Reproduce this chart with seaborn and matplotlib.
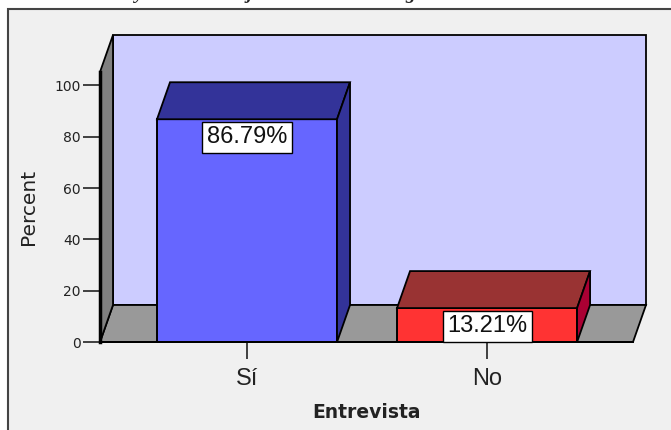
import matplotlib
matplotlib.use("Agg")
import matplotlib.pyplot as plt
from matplotlib.patches import Polygon, Rectangle
import pandas as pd
import seaborn as sns

# Values
categories = ["Sí", "No"]
percents = [86.79, 13.21]
percent_labels = ["86.79%", "13.21%"]
y_ticks = [0, 20, 40, 60, 80, 100]
front_colors = ["#6666ff", "#ff3333"]
top_colors = ["#333399", "#993333"]
side_colors = ["#333399", "#aa0033"]

W, H = 671, 430
sns.set_theme(style="white")
plt.rcParams["font.family"] = ["DejaVu Sans"]

fig = plt.figure(figsize=(W / 100, H / 100), dpi=100, facecolor="white")

# Grey panel behind the chart, open on the right and bottom like the screenshot
panel = Rectangle((8 / W, -0.1), 1.1, 1.1 - 9 / H, transform=fig.transFigure,
                  facecolor="#f0f0f0", edgecolor="#444444", linewidth=1.5, zorder=-1)
fig.add_artist(panel)

# Only the tails of the clipped title line show at the top edge
for px, letter in [(139, "y"), (249, "j"), (410, "g")]:
    fig.text(px / W, 1 + 1 / H, letter, family="Liberation Serif", fontsize=14,
             fontweight="bold", fontstyle="italic", ha="center", va="baseline")

# Axes box is the front plane: x 100-633 px, y 342-72 px
ax = fig.add_axes([100 / W, 1 - 342 / H, 533 / W, 270 / H])
ax.patch.set_visible(False)

df = pd.DataFrame({"Entrevista": categories, "Percent": percents})
sns.barplot(data=df, x="Entrevista", y="Percent", hue="Entrevista", palette=front_colors,
            legend=False, width=0.75, saturation=1, edgecolor="black", linewidth=1.4, ax=ax, zorder=5)

ax.set_xlim(-0.6125, 1.608)
ax.set_ylim(0, 105.2)

# depth of the fake 3D box, in data units
dx = 13 / 240
dy = 37 / 2.566
x0, x1 = ax.get_xlim()
y1 = ax.get_ylim()[1]


def face(points, color, z):
    ax.add_patch(Polygon(points, closed=True, facecolor=color, edgecolor="black",
                         linewidth=1.3, clip_on=False, zorder=z))


bars = list(ax.patches)

face([(x0 + dx, dy), (x1 + dx, dy), (x1 + dx, y1 + dy), (x0 + dx, y1 + dy)], "#ccccff", 1)
face([(x0, 0), (x1, 0), (x1 + dx, dy), (x0 + dx, dy)], "#999999", 2)
face([(x0, 0), (x0 + dx, dy), (x0 + dx, y1 + dy), (x0, y1)], "#808080", 2)

# Top and side of each bar, then the value box
for bar, top, side, label in zip(bars, top_colors, side_colors, percent_labels):
    left = bar.get_x()
    right = left + bar.get_width()
    h = bar.get_height()
    face([(left, h), (right, h), (right + dx, h + dy), (left + dx, h + dy)], top, 6)
    face([(right, 0), (right + dx, dy), (right + dx, h + dy), (right, h)], side, 6)
    ax.annotate(label, xy=((left + right) / 2, h), xytext=(0, -13), textcoords="offset points",
                ha="center", va="center", fontsize=17, family="Liberation Sans", color="#111111",
                bbox=dict(boxstyle="square,pad=0.19", facecolor="white", edgecolor="black", linewidth=1),
                zorder=8)

sns.despine(ax=ax, top=True, right=True)
ax.spines["left"].set_linewidth(2.5)
ax.spines["left"].set_color("black")
ax.spines["left"].set_zorder(7)
ax.spines["bottom"].set_linewidth(1.4)
ax.spines["bottom"].set_color("black")
ax.spines["bottom"].set_zorder(7)

ax.set_yticks(y_ticks)
ax.tick_params(axis="y", left=True, length=12, width=1.2, color="#222222", labelsize=10, pad=2, labelcolor="#222222")
ax.tick_params(axis="x", bottom=True, length=12, width=1.2, color="#222222", pad=7, labelcolor="#222222")
ax.set_xticks(range(len(categories)), labels=categories, fontsize=17, fontfamily="Liberation Sans")
ax.set_ylabel("Percent", fontsize=14.5, fontweight="medium", color="#222222", labelpad=12)
ax.set_xlabel("Entrevista", fontsize=13.5, fontweight="bold", color="#222222", labelpad=9)

fig.savefig("out.png", dpi=100)
